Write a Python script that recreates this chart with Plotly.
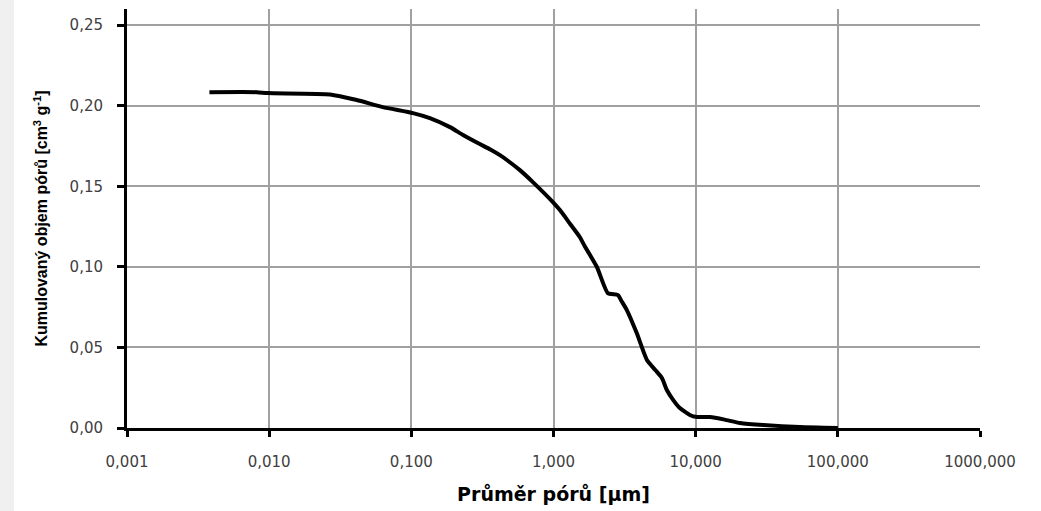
import plotly.graph_objects as go

# Pore diameter [µm] and cumulative pore volume [cm3 g-1]
pore_diameter = [0.0038, 0.0082, 0.0097, 0.0268, 0.0414, 0.063, 0.1026, 0.135, 0.187, 0.231,
                 0.303, 0.357, 0.42, 0.47, 0.58, 0.716, 0.99, 1.11, 1.3, 1.53, 1.66, 2.02,
                 2.41, 2.84, 3.0, 3.28, 3.85, 4.54, 5.2, 5.79, 6.27, 7.0, 7.74, 9.1, 10.2,
                 12.6, 16.0, 20.5, 30.0, 54.0, 100.0]
cumulative_volume = [0.2084, 0.2084, 0.2078, 0.2070, 0.2035, 0.1991, 0.1954, 0.1923, 0.1867, 0.1818,
                     0.1762, 0.1730, 0.1693, 0.1663, 0.1600, 0.1526, 0.1402, 0.1352, 0.1270, 0.1185, 0.1128, 0.0999,
                     0.0837, 0.0825, 0.0790, 0.0732, 0.0589, 0.0422, 0.0360, 0.0310, 0.0236, 0.0170, 0.0124, 0.0081, 0.0068,
                     0.0068, 0.0052, 0.0031, 0.0018, 0.0006, 0.0]

x_tickvals = [0.001, 0.01, 0.1, 1, 10, 100, 1000]
x_ticktext = ["0,001", "0,010", "0,100", "1,000", "10,000", "100,000", "1000,000"]
y_tickvals = [0.0, 0.05, 0.10, 0.15, 0.20, 0.25]
y_ticktext = ["0,00", "0,05", "0,10", "0,15", "0,20", "0,25"]

fig = go.Figure()
fig.add_trace(go.Scatter(x=pore_diameter, y=cumulative_volume, mode="lines",
                         line=dict(color="black", width=4, shape="spline", smoothing=0.5),
                         showlegend=False))

L, R, T, B = 127, 61, 9, 83
W, H = 1041, 511
pw = W - L - R

fig.update_layout(
    width=W, height=H,
    margin=dict(l=L, r=R, t=T, b=B),
    paper_bgcolor="white", plot_bgcolor="white",
    font=dict(family="DejaVu Sans", color="#404040"),
    shapes=[dict(type="rect", xref="paper", yref="paper",
                 x0=-L / pw, x1=(14 - L) / pw, y0=-B / (H - T - B), y1=1 + T / (H - T - B),
                 fillcolor="#f0f0f0", line=dict(width=0), layer="below")],
)
fig.update_xaxes(
    type="log", range=[-3, 3],
    tickvals=x_tickvals, ticktext=x_ticktext,
    tickfont=dict(family="DejaVu Sans", size=15, color="#404040"),
    ticks="outside", ticklen=6, tickwidth=3, tickcolor="black",
    ticklabelstandoff=12,
    showline=True, linecolor="black", linewidth=3,
    showgrid=True, gridcolor="#a0a0a0", gridwidth=1.5,
    zeroline=False,
    title=dict(text="<b>Průměr pórů [µm]</b>", font=dict(family="DejaVu Sans", size=19, color="black"),
               standoff=18),
)
fig.update_yaxes(
    range=[0, 0.26],
    tickvals=y_tickvals, ticktext=y_ticktext,
    tickfont=dict(family="DejaVu Sans", size=15, color="#404040"),
    ticks="outside", ticklen=7, tickwidth=3, tickcolor="black",
    ticklabelstandoff=11,
    showline=True, linecolor="black", linewidth=3,
    showgrid=True, gridcolor="#a0a0a0", gridwidth=1.5,
    zeroline=False,
    title=dict(text="<b>Kumulovaný objem pórů [cm<sup>3</sup> g<sup>-1</sup>]</b>",
               font=dict(family="Liberation Sans Narrow, Liberation Sans", size=16, color="black"),
               standoff=18),
)

fig.write_html("out.html", config={"displayModeBar": False},
               post_script="document.body.style.margin='0';")
